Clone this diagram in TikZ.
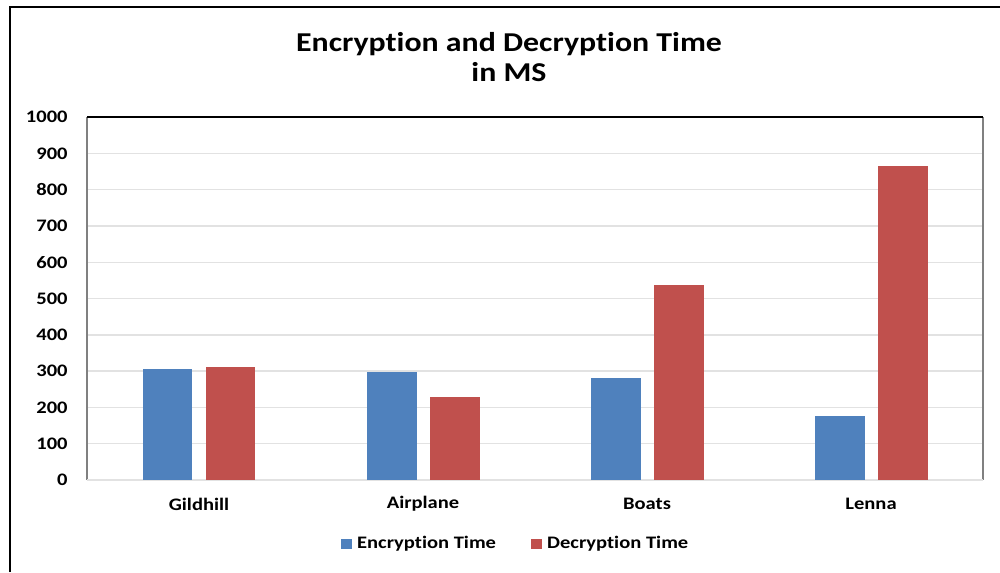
\documentclass[tikz,border=0pt]{standalone}
\usepackage{fontspec}
\setmainfont{Carlito}[FakeStretch=1.17,Ligatures=NoCommon]
\usetikzlibrary{positioning}
\definecolor{encblue}{HTML}{4F81BD}
\definecolor{decred}{HTML}{C0504D}
\definecolor{gridgray}{HTML}{E2E2E2}

\begin{document}
\begin{tikzpicture}[x=0.02cm,y=-0.02cm,
	every node/.style={font=\bfseries\fontsize{10}{12}\selectfont,inner sep=0pt},
	title/.style={font=\bfseries\fontsize{15.5}{17}\selectfont,align=center},
	encbar/.style={fill=encblue,anchor=south,minimum width=1cm},
	decbar/.style={fill=decred,anchor=south,minimum width=1cm},
	legkey/.style={minimum width=0.22cm,minimum height=0.2cm},
	grid/.style={gridgray,line width=0.8pt}]
	\useasboundingbox (0,0) rectangle (1000,572);
	
	% outer frame
	\draw[line width=1.2pt] (10,572) -- (10,7) -- (1000,7);
	
	\node[title] (title) at (509,57) {Encryption and Decryption Time\\in MS};
	
	% grid and plot area
	\foreach \v in {100,200,...,900}
	\draw[grid] (87,480-0.363*\v) -- (983,480-0.363*\v);
	\draw[gray,line width=0.9pt] (87,480) -- (87,117);
	\draw[gray,line width=1.1pt] (983,480) -- (983,117);
	\draw[black,line width=0.6pt] (87,117) -- (983,117);
	\draw[grid,line width=1.2pt] (87,480) -- (983,480);
	
	\foreach \v in {0,100,...,1000}
	\node[anchor=east] (y\v) at (68,480-0.363*\v) {\v};
	
	% bars
	\foreach \name/\e/\d [count=\i] in {Gildhill/304/310,Airplane/297/227,Boats/280/536,Lenna/174/865} {
		\pgfmathsetmacro\cx{87+224*(\i-0.5)}
		\node[encbar,minimum height=\e*0.00726cm] (enc\i) at (\cx-31.5,480) {};
		\node[decbar,minimum height=\d*0.00726cm] (dec\i) at (\cx+31.5,480) {};
		\node (cat\i) at (\cx,504) {\name};
	}
	
	% legend
	\node[legkey,fill=encblue] (keyEnc) at (346,544) {};
	\node[right=2.8pt of keyEnc] (legEnc) {Encryption Time};
	\node[legkey,fill=decred] (keyDec) at (536,544) {};
	\node[right=2.8pt of keyDec] (legDec) {Decryption Time};
	
\end{tikzpicture}
\end{document}
